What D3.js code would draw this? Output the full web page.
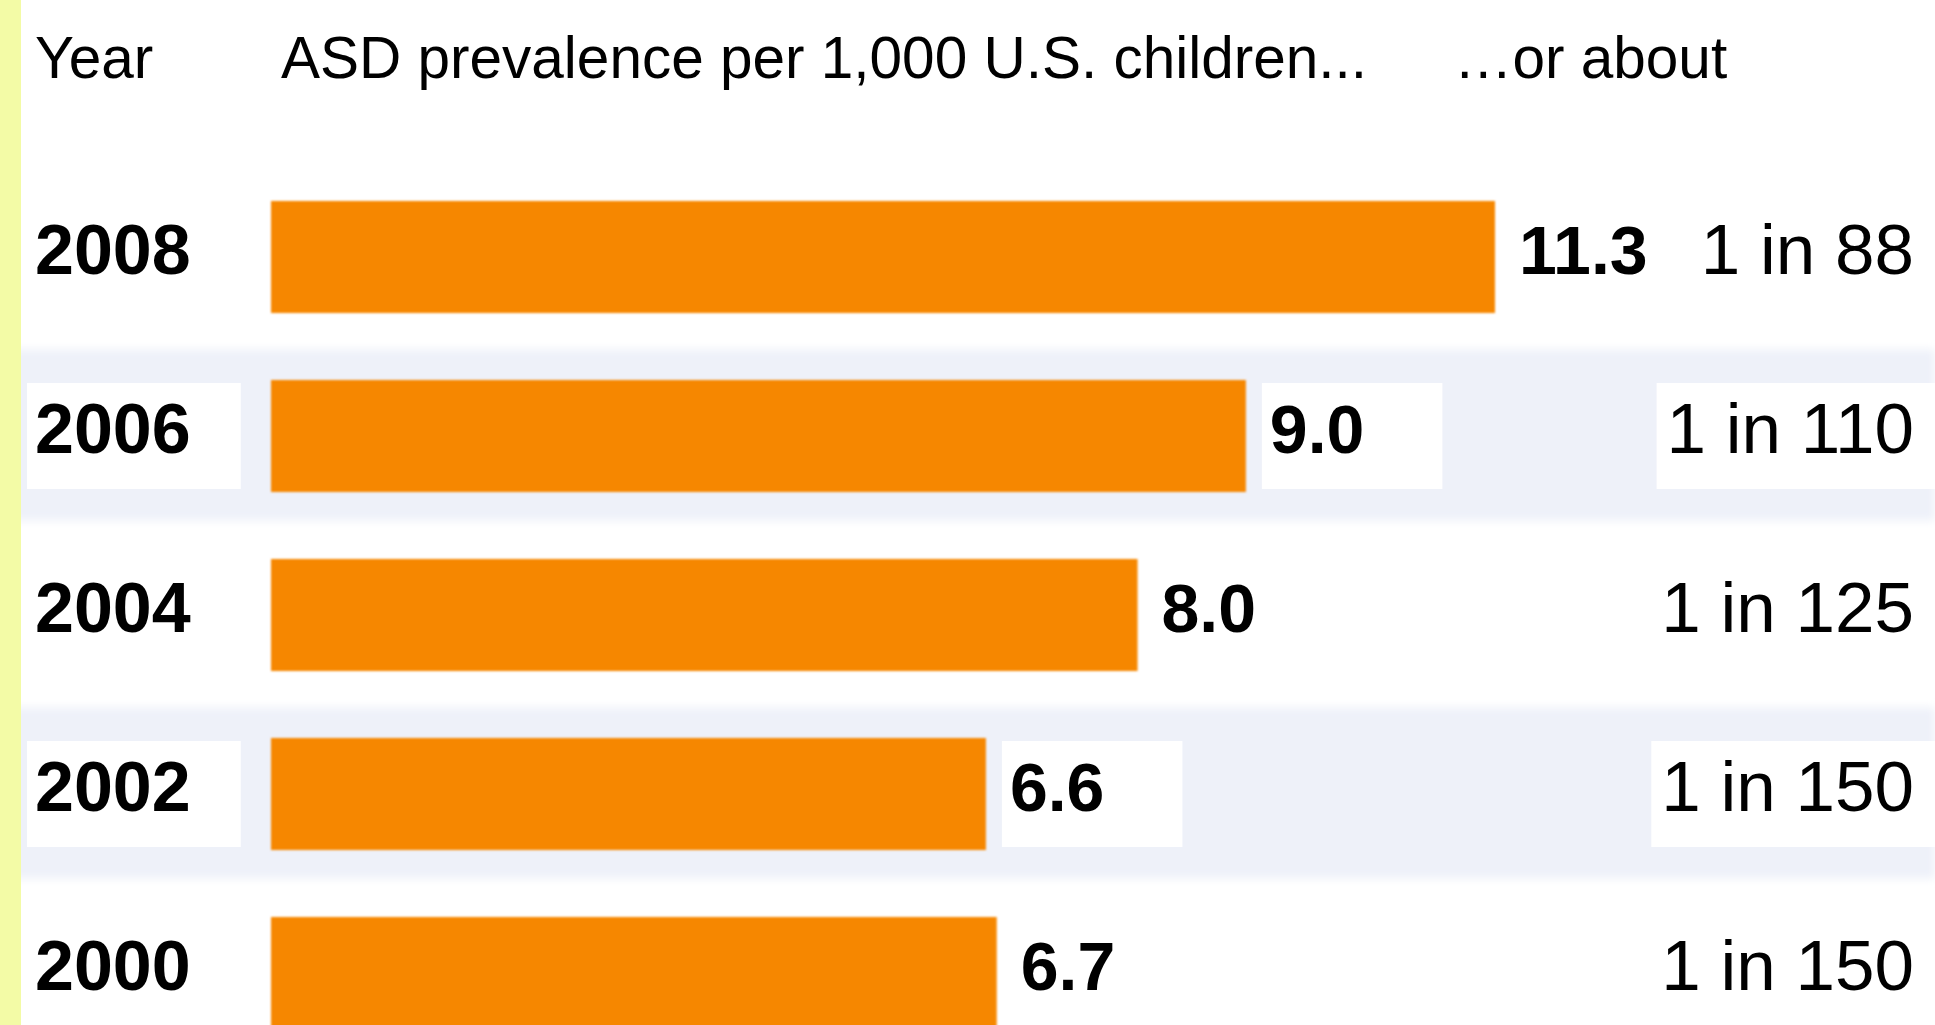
<!DOCTYPE html>
<html>
<head>
<meta charset="utf-8">
<script src="https://cdn.jsdelivr.net/npm/d3@7"></script>
<style>
  html, body { margin: 0; padding: 0; background: #ffffff; overflow: hidden; }
  svg { display: block; font-family: "Liberation Sans", Arial, Helvetica, sans-serif; }
</style>
</head>
<body>
<svg id="chart" width="1935" height="1025"></svg>
<script>
// ---- data ----
const years = ["2008", "2006", "2004", "2002", "2000"];
const prevalence = [11.3, 9.0, 8.0, 6.6, 6.7];
const ratioLabels = ["1 in 88", "1 in 110", "1 in 125", "1 in 150", "1 in 150"];
const headerLabels = ["Year", "ASD prevalence per 1,000 U.S. children...", "\u2026or about"];
const shadedYears = ["2006", "2002"];

// ---- layout ----
const W = 1935, H = 1025;
const svg = d3.select("#chart");
const rows = years.map((y, i) => ({ year: y, value: prevalence[i], ratio: ratioLabels[i] }));

const x = d3.scaleLinear().domain([0, 11.3]).range([271, 1495]);
const y = d3.scaleBand().domain(years).range([167.5, 1062.5]).paddingInner(0.374).paddingOuter(0.187);
const step = y.step();

svg.append("rect").attr("x", 0).attr("y", 0).attr("width", W).attr("height", H).attr("fill", "#ffffff");

const defs = svg.append("defs");
defs.append("filter").attr("id", "soft").attr("x", "-5%").attr("y", "-20%").attr("width", "110%").attr("height", "140%")
  .append("feGaussianBlur").attr("stdDeviation", 4);
defs.append("filter").attr("id", "softbar").attr("x", "-2%").attr("y", "-5%").attr("width", "104%").attr("height", "110%")
  .append("feGaussianBlur").attr("stdDeviation", 1.2);

// shaded row stripes
svg.append("g").selectAll("rect").data(shadedYears).join("rect")
  .attr("x", 0).attr("width", W)
  .attr("y", d => y(d) + y.bandwidth() / 2 - step / 2 + 3)
  .attr("height", step - 8)
  .attr("fill", "#eef1f9")
  .attr("filter", "url(#soft)");

// yellow strip on left
svg.append("rect").attr("x", 0).attr("y", 0).attr("width", 21).attr("height", H).attr("fill", "#f3fba6");

// header
const headerX = [35, 281, 1454];
svg.append("g").selectAll("text").data(headerLabels).join("text")
  .attr("x", (d, i) => headerX[i]).attr("y", 78)
  .attr("font-size", 58.5).attr("fill", "#000")
  .text(d => d);

// bars
svg.append("g").selectAll("rect").data(rows).join("rect")
  .attr("x", x(0))
  .attr("y", d => y(d.year))
  .attr("width", d => x(d.value) - x(0))
  .attr("height", y.bandwidth())
  .attr("fill", "#f68705")
  .attr("filter", "url(#softbar)");

const boxLayer = svg.append("g");
const textLayer = svg.append("g");

const baseline = d => y(d.year) + y.bandwidth() / 2 + 17;

const yearText = textLayer.selectAll("text.year").data(rows).join("text")
  .attr("class", "year")
  .attr("x", 35).attr("y", baseline)
  .attr("font-size", 70).attr("font-weight", "bold").attr("fill", "#000")
  .text(d => d.year);

const valueText = textLayer.selectAll("text.val").data(rows).join("text")
  .attr("class", "val")
  .attr("x", d => x(d.value) + 24).attr("y", baseline)
  .attr("font-size", 68).attr("font-weight", "bold").attr("fill", "#000")
  .text(d => d3.format(".1f")(d.value));

const ratioText = textLayer.selectAll("text.ratio").data(rows).join("text")
  .attr("class", "ratio")
  .attr("x", 1914).attr("y", baseline)
  .attr("text-anchor", "end")
  .attr("font-size", 71).attr("fill", "#000")
  .text(d => d.ratio);

// white boxes behind texts in shaded rows
function addBoxes(sel, padL, padR, toEdge) {
  sel.each(function(d) {
    if (!shadedYears.includes(d.year)) return;
    const bb = this.getBBox();
    const x0 = bb.x - padL;
    const x1 = toEdge ? W : bb.x + bb.width + padR;
    boxLayer.append("rect")
      .attr("x", x0).attr("y", y(d.year) + 3)
      .attr("width", x1 - x0).attr("height", y.bandwidth() - 6)
      .attr("fill", "#ffffff");
  });
}
addBoxes(yearText, 8, 50, false);
addBoxes(valueText, 8, 78, false);
addBoxes(ratioText, 10, 0, true);
</script>
</body>
</html>
